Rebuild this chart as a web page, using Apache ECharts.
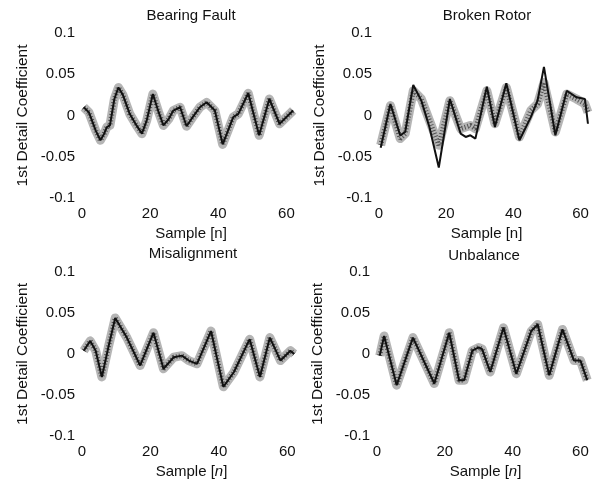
<!DOCTYPE html>
<html>
<head>
<meta charset="utf-8">
<script src="https://cdn.jsdelivr.net/npm/echarts@6/dist/echarts.min.js"></script>
<style>
  html, body { margin: 0; padding: 0; background: #fff; }
  #chart { width: 594px; height: 482px; }
</style>
</head>
<body>
<div id="chart"></div>
<script>
// panel titles
var titles = ['Bearing Fault', 'Broken Rotor', 'Misalignment', 'Unbalance']
var xTicks = [0, 20, 40, 60]

// [sample, coefficient] vertices
var bearingFault = [[0.5, 0.010], [2, 0.004], [4, -0.018], [5.4, -0.030], [6.5, -0.022], [7.3, -0.014], [8.2, -0.012], [9.5, 0.020], [10.7, 0.034], [12, 0.025], [14, 0.002], [16, -0.012], [17.6, -0.022], [19, -0.006], [20.8, 0.026], [22.5, 0.004], [23.9, -0.012], [25.5, -0.004], [26.8, 0.006], [28.8, 0.010], [30.7, -0.013], [32.5, -0.002], [34.6, 0.010], [36.6, 0.016], [39, 0.006], [41.3, -0.035], [44.4, -0.002], [45.9, 0.002], [48.8, 0.027], [52, -0.024], [55, 0.020], [58, -0.010], [59.5, -0.004], [62, 0.006]]
var brokenRotor = [[0.5, -0.039], [3.4, 0.014], [6.3, -0.024], [7.8, -0.020], [10.2, 0.037], [12.6, 0.018], [15, -0.014], [17.8, -0.063], [21.1, 0.020], [24.3, -0.022], [25.8, -0.026], [27.2, -0.024], [28.7, -0.028], [32.1, 0.035], [34.5, -0.014], [37.9, 0.039], [41.8, -0.030], [45.2, -0.002], [47.2, 0.018], [49.1, 0.059], [52.5, -0.024], [55.9, 0.030], [58.8, 0.022], [61.3, 0.020], [62.2, -0.010]]
var brokenRotorBand = [[0.5, -0.036], [3.4, 0.012], [6.3, -0.028], [7.8, -0.022], [10.2, 0.030], [12.6, 0.020], [15, -0.006], [17.8, -0.036], [21.1, 0.018], [24.3, -0.016], [25.8, -0.014], [27.2, -0.012], [28.7, -0.016], [32.1, 0.030], [34.5, -0.010], [37.9, 0.034], [41.8, -0.026], [45.2, 0.006], [47.2, 0.014], [49.1, 0.040], [52.5, -0.020], [55.9, 0.026], [58.8, 0.020], [61.3, 0.014], [62.2, 0.004]]
var misalignment = [[0.5, 0.004], [2.4, 0.016], [4, 0.004], [5.8, -0.028], [7.8, 0.010], [9.7, 0.044], [13.1, 0.020], [17, -0.014], [20.9, 0.026], [23.8, -0.018], [26.8, -0.004], [29.2, -0.002], [31.2, -0.008], [33.6, -0.012], [37.7, 0.028], [41.3, -0.040], [44.4, -0.022], [48.3, 0.012], [49, 0.018], [52, -0.028], [54.9, 0.020], [58, -0.008], [60.9, 0.004], [62, 0.000]]
var unbalance = [[0.8, -0.002], [2.1, 0.022], [5.8, -0.038], [10.6, 0.020], [16.9, -0.036], [21.3, 0.026], [24.2, -0.032], [25.7, -0.032], [28.1, 0.004], [30, 0.008], [31, 0.006], [33.4, -0.022], [37.3, 0.032], [41.1, -0.024], [45.5, 0.028], [47.4, 0.036], [50.8, -0.026], [54.7, 0.030], [58.1, -0.008], [60, -0.008], [62, -0.032]]

var lines = [bearingFault, brokenRotor, misalignment, unbalance]
var bands = [bearingFault, brokenRotorBand, misalignment, unbalance]

var chart = echarts.init(document.getElementById('chart'))
var font = 'Liberation Sans, Arial, Helvetica, sans-serif'

// panel boxes: [left, top, width, height]
var boxes = [
  [82, 33, 218, 165],
  [379, 33, 219, 165],
  [82, 272, 219, 164],
  [377, 272, 220, 164]
]
var titlePos = [[186, 3], [482, 3], [188, 241], [479, 243]]

var grid = [], xAxis = [], yAxis = [], series = [], title = []
boxes.forEach(function (b, i) {
  grid.push({ left: b[0], top: b[1], width: b[2], height: b[3], containLabel: false })
  title.push({
    text: titles[i], left: titlePos[i][0], top: titlePos[i][1], textAlign: 'center',
    textStyle: { fontFamily: font, fontSize: 15, fontWeight: 'normal', color: '#111' }
  })
  var bottomRow = i >= 2
  xAxis.push({
    type: 'value', gridIndex: i, min: 0, max: 64,
    name: bottomRow ? 'Sample [{i|n}]' : 'Sample [n]',
    nameLocation: 'middle', nameGap: 28,
    nameTextStyle: {
      fontFamily: font, fontSize: 15, color: '#111',
      rich: { i: { fontStyle: 'italic', fontFamily: font, fontSize: 15, color: '#111' } }
    },
    axisLine: { show: false }, axisTick: { show: false }, splitLine: { show: false },
    axisLabel: {
      margin: 8, fontFamily: font, fontSize: 15, color: '#111',
      customValues: xTicks
    }
  })
  yAxis.push({
    type: 'value', gridIndex: i, min: -0.1, max: 0.1, interval: 0.05,
    name: '1st Detail Coefficient', nameLocation: 'middle', nameGap: 51, nameRotate: 90,
    nameTextStyle: { fontFamily: font, fontSize: 15.5, color: '#111' },
    axisLine: { show: false }, axisTick: { show: false }, splitLine: { show: false },
    axisLabel: {
      margin: 7, fontFamily: font, fontSize: 15, color: '#111',
      formatter: function (v) { return String(Math.round(v * 100) / 100) }
    }
  })
  // gray ensemble band
  series.push({
    type: 'line', xAxisIndex: i, yAxisIndex: i, data: bands[i],
    symbol: 'none', silent: true,
    lineStyle: { color: '#a8a8a8', width: 9, opacity: 0.85, join: 'round' }
  })
  series.push({
    type: 'line', xAxisIndex: i, yAxisIndex: i, data: bands[i],
    symbol: 'none', silent: true,
    lineStyle: { color: '#3a3a3a', width: 5, opacity: 0.8, type: [1, 2] }
  })
  // dark reference line
  series.push({
    type: 'line', xAxisIndex: i, yAxisIndex: i, data: lines[i],
    symbol: 'none', silent: true,
    lineStyle: { color: '#111', width: 2 }
  })
})

chart.setOption({
  animation: false,
  backgroundColor: '#fff',
  title: title,
  grid: grid,
  xAxis: xAxis,
  yAxis: yAxis,
  series: series
})
</script>
</body>
</html>
